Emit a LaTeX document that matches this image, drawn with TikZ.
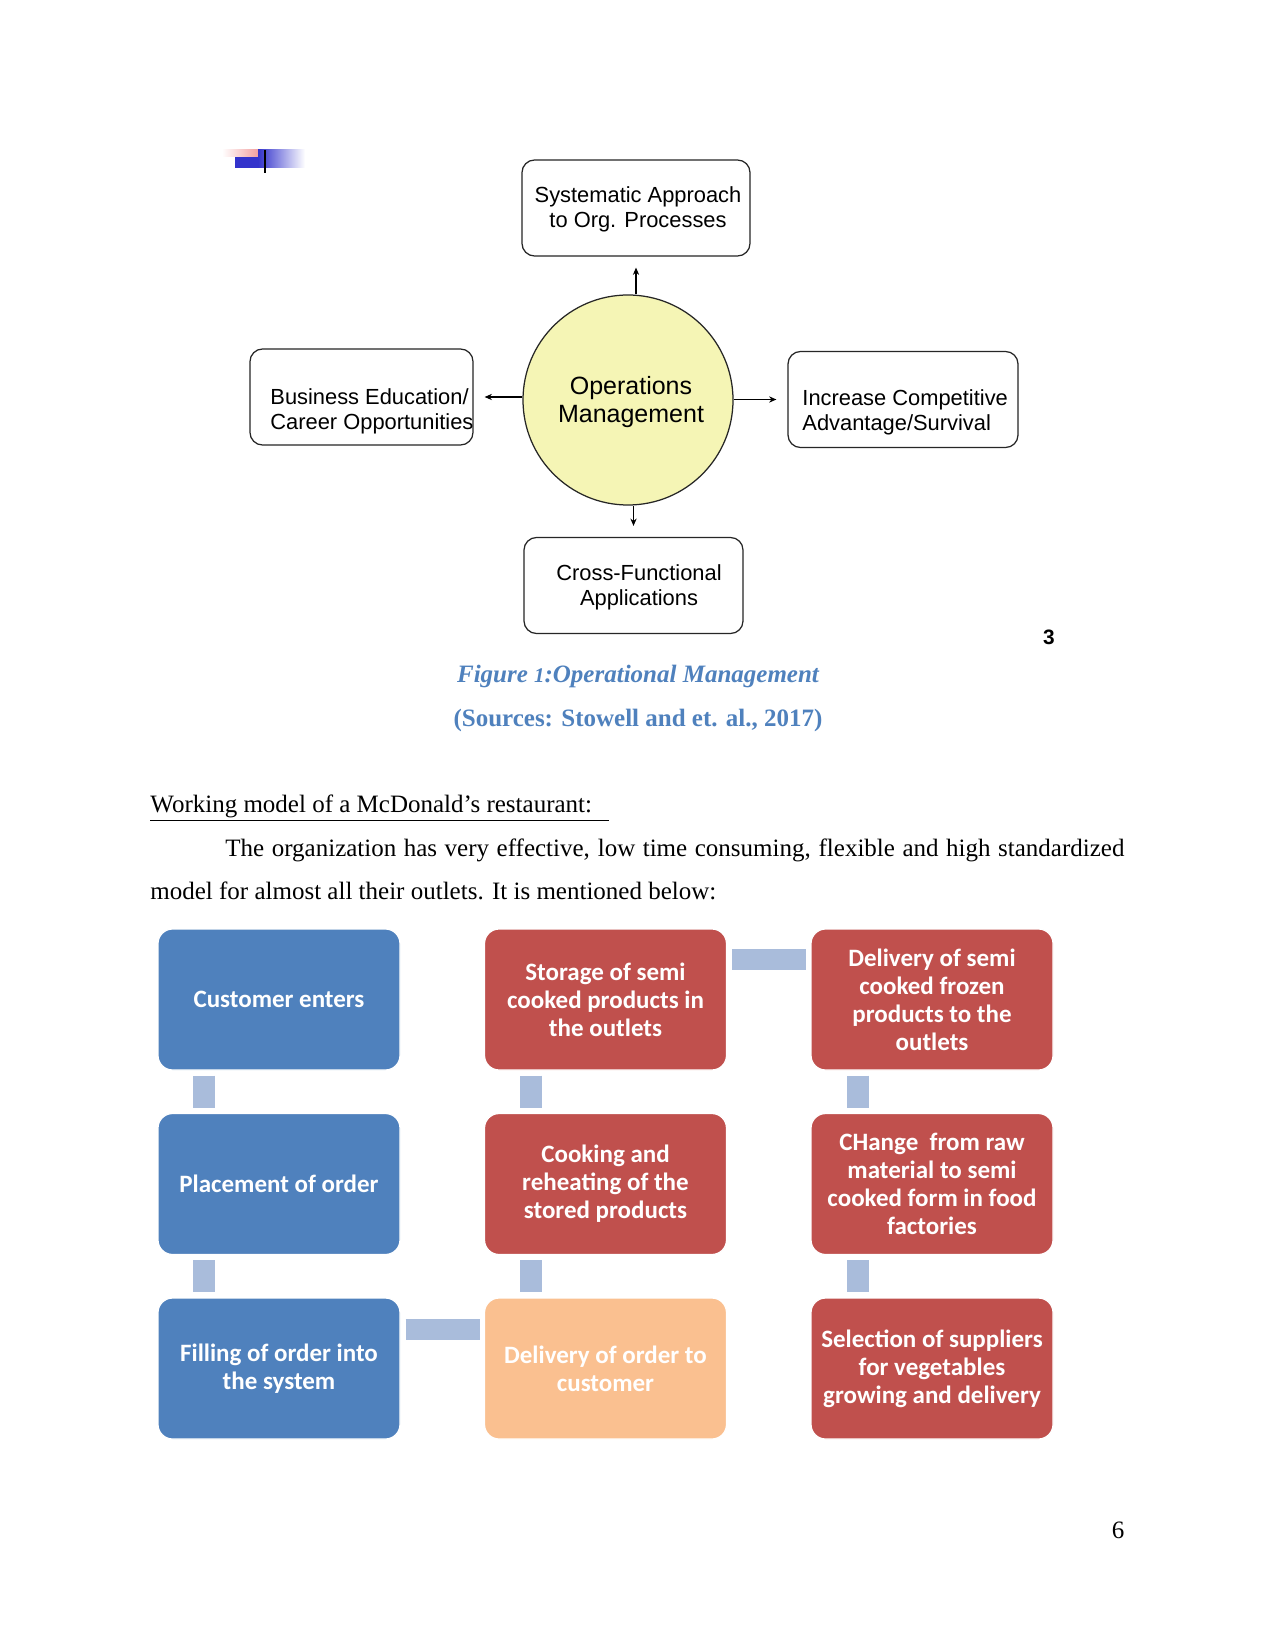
\documentclass[tikz,border=0pt]{standalone}
\usepackage{fontspec}
\setmainfont{Liberation Serif}
\newfontfamily\arialf{Liberation Sans}
\newfontfamily\calibf{Carlito}
\usetikzlibrary{arrows.meta,calc}

\definecolor{capblue}{HTML}{4F81BD}
\definecolor{blkblue}{HTML}{4F81BD}
\definecolor{blkred}{HTML}{C0504D}
\definecolor{blkpeach}{HTML}{FAC090}
\definecolor{linkc}{HTML}{A9BCDB}
\definecolor{omyellow}{HTML}{F5F5B5}
\definecolor{logoblue}{HTML}{3333CC}
\definecolor{logopink}{HTML}{F2A0A0}
\newcommand\pxu{0.48pt}

\tikzset{
  obox/.style={draw=black!85, rounded corners=6pt, line width=0.6pt, minimum width={#1*\pxu}, minimum height={96*\pxu}},
  otext/.style={font=\arialf\fontsize{10.5}{12}\selectfont, inner sep=0pt},
  arr/.style={-{Stealth[length=3.5pt,width=3pt]}, line width=0.5pt, shorten >=11*\pxu},
  blk/.style={fill=#1, draw=white, line width=0.6pt, rounded corners=7pt, minimum width={242*\pxu}, minimum height={141*\pxu}, text=white, align=center, font=\calibf\bfseries\fontsize{12}{13.5}\selectfont},
  vlink/.style={draw=linkc, line width={22*\pxu}, shorten <=2.4pt, shorten >=2.4pt},
  hlink/.style={draw=linkc, line width={21*\pxu}, shorten <=2.4pt, shorten >=2pt},
  txt/.style={inner sep=0pt, anchor=base west, font=\fontsize{12}{14}\selectfont}
}

\begin{document}
\begin{tikzpicture}[x=0.48pt, y=-0.48pt]
  \fill[white] (0,0) rectangle (1275,1650);
  \useasboundingbox (0,0) rectangle (1275,1650);

  \shade[left color=white, right color=logopink] (222,150) rectangle (258,157);
  \shade[left color=logoblue, right color=white] (258,150) rectangle (305,168);
  \fill[logoblue] (235,157) rectangle (258,168);
  \draw[line width=1.2pt] (265,150) -- (265,173);

  \node[obox=228] (sys) at (636,208) {};
  \node[obox=223] (bus) at (361.5,397) {};
  \node[obox=230] (inc) at (903,399.5) {};
  \node[obox=219] (cross) at (633.5,585.5) {};
  \node[draw=black!85, line width=0.6pt, fill=omyellow, circle, minimum size={210*\pxu}] (om) at (628,400) {};

  \node[otext, align=center] (systxt) at (638,209) {Systematic Approach\\to Org. Processes};
  \node[otext, align=left, anchor=west] (bustxt) at (270,411) {Business Education/\\Career Opportunities};
  \node[otext, align=left, anchor=west] (inctxt) at (802,412) {Increase Competitive\\Advantage/Survival};
  \node[otext, align=center] (crosstxt) at (639,587) {Cross-Functional\\Applications};
  \node[otext, align=center, font=\arialf\fontsize{12}{13.6}\selectfont] (omtxt) at (631,402) {Operations\\Management};

  \draw[arr] (sys.south |- om.north) -- (sys.south);
  \draw[arr] (bus.east -| om.west) -- (bus.east);
  \draw[arr] (inc.west -| om.east) -- (inc.west);
  \draw[arr] (cross.north |- om.south) -- (cross.north);

  \node[font=\arialf\bfseries\fontsize{10}{12}\selectfont] (pgnum) at (1049,637) {3};

  \node[anchor=base, inner sep=0pt, text=capblue, font=\bfseries\itshape\fontsize{12}{14}\selectfont] (figcap) at (638,682) {Figure {\fontsize{10}{12}\selectfont 1}:Operational Management};
  \node[anchor=base, inner sep=0pt, text=capblue, font=\bfseries\fontsize{12}{14}\selectfont] (srccap) at (638,726) {(Sources: Stowell and et. al., 2017)};

  \node[txt] (head) at (150,812) {\underline{Working model of a McDonald’s restaurant:\ \ \,}};
  \node[txt] (para1) at (225,856) {\makebox[431.5pt][s]{The organization has very effective, low time consuming, flexible and high standardized}};
  \node[txt] (para2) at (150,899) {model for almost all their outlets. It is mentioned below:};

  \node[blk=blkblue] (cust) at (279,999.5) {Customer enters};
  \node[blk=blkblue] (place) at (279,1184) {Placement of order};
  \node[blk=blkblue] (fill) at (279,1368.5) {Filling of order into\\the system};
  \node[blk=blkred] (store) at (605.5,999.5) {Storage of semi\\cooked products in\\the outlets};
  \node[blk=blkred] (cook) at (605.5,1184) {Cooking and\\reheating of the\\stored products};
  \node[blk=blkpeach] (delord) at (605.5,1368.5) {Delivery of order to\\customer};
  \node[blk=blkred] (delsemi) at (932,999.5) {Delivery of semi\\cooked frozen\\products to the\\outlets};
  \node[blk=blkred] (change) at (932,1184) {CHange\ \ from raw\\material to semi\\cooked form in food\\factories};
  \node[blk=blkred] (select) at (932,1368.5) {Selection of suppliers\\for vegetables\\growing and delivery};

  \draw[vlink] ($(cust.south west)+(47,0)$) -- ($(place.north west)+(47,0)$);
  \draw[vlink] ($(place.south west)+(47,0)$) -- ($(fill.north west)+(47,0)$);
  \draw[vlink] ($(store.south west)+(47,0)$) -- ($(cook.north west)+(47,0)$);
  \draw[vlink] ($(cook.south west)+(47,0)$) -- ($(delord.north west)+(47,0)$);
  \draw[vlink] ($(delsemi.south west)+(48,0)$) -- ($(change.north west)+(48,0)$);
  \draw[vlink] ($(change.south west)+(48,0)$) -- ($(select.north west)+(48,0)$);
  \draw[hlink] ($(store.north east)+(0,31)$) -- ($(delsemi.north west)+(0,31)$);
  \draw[hlink] ($(fill.north east)+(0,32)$) -- ($(delord.north west)+(0,32)$);

  \node[anchor=base, inner sep=0pt, font=\fontsize{12}{14}\selectfont] (pagesix) at (1118,1538) {6};
\end{tikzpicture}
\end{document}
